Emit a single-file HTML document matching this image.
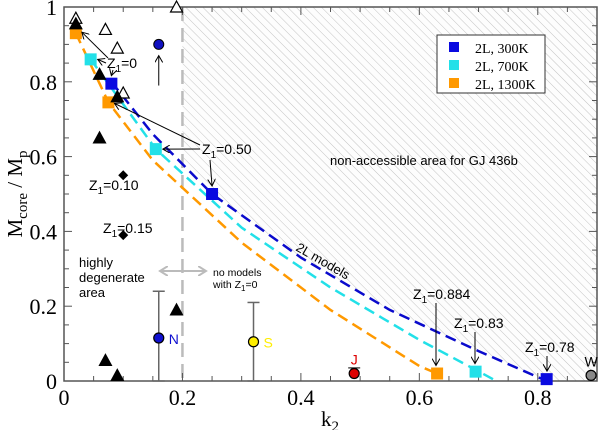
<!DOCTYPE html>
<html><head><meta charset="utf-8"><style>
body{margin:0;background:#fff}
svg text{font-family:"Liberation Sans",sans-serif}
.serif{font-family:"Liberation Serif",serif}
</style></head><body>
<svg id="chart" width="600" height="430" xmlns="http://www.w3.org/2000/svg">
<defs>
<pattern id="hatch" width="6" height="6" patternUnits="userSpaceOnUse" patternTransform="rotate(-45)">
<rect width="6" height="6" fill="#fdfdfd"/><line x1="0" y1="0" x2="0" y2="6" stroke="#c4c4c4" stroke-width="1"/>
</pattern>
<marker id="ah" markerWidth="8" markerHeight="8" refX="7" refY="4" orient="auto" markerUnits="userSpaceOnUse"><path d="M0,0 L7,4 L0,8" fill="none" stroke="#000" stroke-width="1"/></marker>
<marker id="ahg" markerWidth="10" markerHeight="10" refX="8" refY="5" orient="auto" markerUnits="userSpaceOnUse"><path d="M0,0 L8,5 L0,10" fill="none" stroke="#bbb" stroke-width="2"/></marker>
</defs>
<g id="layer"></g>
</svg>
<script>
const xTicks=[0,0.2,0.4,0.6,0.8];
const yTicks=[0,0.2,0.4,0.6,0.8,1];
const blueCurveK=[0.08,0.15,0.25,0.4,0.55,0.7,0.815];
const blueCurveM=[0.80,0.66,0.5,0.33,0.19,0.08,0.0];
const cyanCurveK=[0.045,0.155,0.3,0.45,0.6,0.695,0.73];
const cyanCurveM=[0.86,0.62,0.41,0.25,0.11,0.03,0.0];
const orangeCurveK=[0.02,0.075,0.15,0.3,0.45,0.6,0.63];
const orangeCurveM=[0.93,0.745,0.59,0.37,0.19,0.04,0.02];
const blueSqK=[0.08,0.25,0.815], blueSqM=[0.795,0.5,0.005];
const cyanSqK=[0.045,0.155,0.695], cyanSqM=[0.86,0.62,0.025];
const orangeSqK=[0.02,0.075,0.63], orangeSqM=[0.93,0.745,0.02];
const triFilledK=[0.02,0.06,0.09,0.06,0.07,0.09,0.19];
const triFilledM=[0.955,0.82,0.76,0.65,0.055,0.015,0.19];
const triOpenK=[0.02,0.07,0.09,0.1,0.19];
const triOpenM=[0.97,0.94,0.89,0.77,1.0];
const diamondK=[0.1,0.1], diamondM=[0.55,0.39];
const planetNames=["N","S","J","W"];
const planetK=[0.16,0.32,0.49,0.89];
const planetM=[0.115,0.105,0.02,0.015];
const planetLo=[0,0,0.005,0.015];
const planetHi=[0.24,0.21,0.035,0.015];

const X0=64,X1=597,Y0=381,Y1=7,KMAX=0.9;
const sx=k=>X0+k/KMAX*(X1-X0);
const sy=m=>Y0-m*(Y0-Y1);
const NS="http://www.w3.org/2000/svg";
const L=document.getElementById('layer');
function mk(t,a,txt){const e=document.createElementNS(NS,t);for(const k in a)e.setAttribute(k,a[k]);if(txt!==undefined)e.textContent=txt;L.appendChild(e);return e;}
function interp(K,M,k){for(let i=0;i<K.length-1;i++){if(k>=K[i]&&k<=K[i+1])return M[i]+(M[i+1]-M[i])*(k-K[i])/(K[i+1]-K[i]);}return M[M.length-1];}

let e;
// hatch region above blue curve, right of k2=0.2
let hd=`M${sx(0.2)},${Y1} L${X1},${Y1} L${X1},${Y0} L${sx(blueCurveK[blueCurveK.length-1])},${Y0}`;
for(let i=blueCurveK.length-1;i>=0;i--){if(blueCurveK[i]>0.2)hd+=` L${sx(blueCurveK[i])},${sy(blueCurveM[i])}`;}
hd+=` L${sx(0.2)},${sy(interp(blueCurveK,blueCurveM,0.2))} Z`;
e=mk('path',{d:hd,fill:'url(#hatch)'});


e=mk('line',{x1:sx(0.2),y1:Y1,x2:sx(0.2),y2:Y0,stroke:'#bbb','stroke-width':2.5,'stroke-dasharray':'14,7'});



e=mk('rect',{x:X0,y:Y1,width:X1-X0,height:Y0-Y1,fill:'none',stroke:'#555','stroke-width':1.5});


for(let k=0;k<=0.9001;k+=0.05){const x=sx(k),maj=Math.abs(k/0.2-Math.round(k/0.2))<1e-6,len=maj?8:5;
 mk('line',{x1:x,y1:Y0,x2:x,y2:Y0-len,stroke:'#555'});mk('line',{x1:x,y1:Y1,x2:x,y2:Y1+len,stroke:'#555'});}
for(let m=0;m<=1.0001;m+=0.05){const y=sy(m),maj=Math.abs(m/0.2-Math.round(m/0.2))<1e-6,len=maj?8:5;
 mk('line',{x1:X0,y1:y,x2:X0+len,y2:y,stroke:'#555'});mk('line',{x1:X1,y1:y,x2:X1-len,y2:y,stroke:'#555'});}
xTicks.forEach(k=>{e=mk('text',{x:sx(k),y:405,'text-anchor':'middle','font-size':22,class:'serif'},String(k));

});
yTicks.forEach(m=>{e=mk('text',{x:57,y:sy(m)+8,'text-anchor':'end','font-size':22,class:'serif'},String(m));

});
e=mk('text',{x:330,y:426,'text-anchor':'middle','font-size':21,class:'serif'});e.innerHTML='k<tspan dy="5" font-size="15">2</tspan>';


e=mk('text',{x:0,y:0,'text-anchor':'middle','font-size':21,class:'serif',transform:'translate(22,194) rotate(-90)'});e.innerHTML='M<tspan dy="5" font-size="15">core</tspan><tspan dy="-5"> / M</tspan><tspan dy="5" font-size="15">p</tspan>';



function curve(K,M,col,name){const d=K.map((k,i)=>(i?'L':'M')+sx(k)+','+sy(M[i])).join(' ');
 e=mk('path',{d:d,fill:'none',stroke:col,'stroke-width':2.5,'stroke-dasharray':'11,6'});
 
 }
curve(orangeCurveK,orangeCurveM,'#ff9900','orange-1300k-curve');
curve(cyanCurveK,cyanCurveM,'#22e0e8','cyan-700k-curve');
curve(blueCurveK,blueCurveM,'#0a0acc','blue-300k-curve');

function squares(K,M,col,name){K.forEach((k,i)=>{e=mk('rect',{x:sx(k)-6,y:sy(M[i])-6,width:12,height:12,fill:col});
 
 });}
squares(orangeSqK,orangeSqM,'#ff9900','orange-model-point');
squares(cyanSqK,cyanSqM,'#22e0e8','cyan-model-point');
squares(blueSqK,blueSqM,'#0a0ae0','blue-model-point');

function tri(k,m,fill){const x=sx(k),y=sy(m);return mk('path',{d:`M${x},${y-6} L${x+6},${y+5} L${x-6},${y+5}Z`,fill:fill,stroke:'#000','stroke-width':1.2});}
triOpenK.forEach((k,i)=>{e=tri(k,triOpenM[i],'#fff');

});
triFilledK.forEach((k,i)=>{e=tri(k,triFilledM[i],'#000');

});
diamondK.forEach((k,i)=>{const x=sx(k),y=sy(diamondM[i]);e=mk('path',{d:`M${x},${y-5} L${x+5},${y} L${x},${y+5} L${x-5},${y}Z`,fill:'#000'});

});

e=mk('circle',{cx:sx(0.16),cy:sy(0.9),r:5,fill:'#1010c0',stroke:'#000'});


mk('line',{x1:sx(0.16),y1:sy(0.79),x2:sx(0.16),y2:sy(0.87),stroke:'#000','marker-end':'url(#ah)'});

const pCol=['#1010d0','#ffee00','#dd0000','#888'];
const lCol=['#1010d0','#ffee00','#dd0000','#000'];
planetNames.forEach((n,i)=>{const x=sx(planetK[i]);
 const lo=sy(planetLo[i]),hi=sy(planetHi[i]);
 if(planetHi[i]-planetLo[i]>0.05){mk('line',{x1:x,y1:lo,x2:x,y2:hi,stroke:'#666','stroke-width':1.5});
  mk('line',{x1:x-6,y1:lo,x2:x+6,y2:lo,stroke:'#666','stroke-width':1.5});mk('line',{x1:x-6,y1:hi,x2:x+6,y2:hi,stroke:'#666','stroke-width':1.5});}
 else if(i==2) mk('line',{x1:x-6,y1:hi,x2:x+6,y2:hi,stroke:'#000'});
 e=mk('circle',{cx:x,cy:sy(planetM[i]),r:5,fill:pCol[i],stroke:'#000','stroke-width':1.2});
 
 
 const lx=i<2?x+10:x,ly=i<2?sy(planetM[i])+6:sy(planetM[i])-9;
 e=mk('text',{x:lx,y:ly,'font-size':14,fill:lCol[i],'text-anchor':i<2?'start':'middle'},n);
 
 });

function z(x,y,val,name){e=mk('text',{x:x,y:y,'font-size':14});e.innerHTML='Z<tspan dy="4" font-size="10">1</tspan><tspan dy="-4">='+val+'</tspan>';
 
 }
function arr(x1,y1,x2,y2){mk('line',{x1:x1,y1:y1,x2:x2,y2:y2,stroke:'#000','marker-end':'url(#ah)'});}
z(107,68,'0','z1-0-label');
arr(108,58,sx(orangeSqK[0])+6,sy(orangeSqM[0])-1);
arr(106,63,sx(cyanSqK[0])+7,sy(cyanSqM[0]));
arr(113,70,sx(blueSqK[0]),sy(blueSqM[0])-8);
z(202,154,'0.50','z1-050-label');
arr(200,145,sx(orangeSqK[1])+6,sy(orangeSqM[1])+1);
arr(200,149,sx(cyanSqK[1])+7,sy(cyanSqM[1]));
arr(210,160,sx(blueSqK[1]),sy(blueSqM[1])-8);
z(413,299,'0.884','z1-0884-label');arr(436,303,436,sy(orangeSqM[2])-8);
z(454,328,'0.83','z1-083-label');arr(475,332,475,sy(cyanSqM[2])-8);
z(525,352,'0.78','z1-078-label');arr(547,356,547,sy(blueSqM[2])-8);

e=mk('text',{x:330,y:165,'font-size':13},'non-accessible area for GJ 436b');


e=mk('text',{x:0,y:0,'font-size':13,transform:'translate(295,250) rotate(30)'},'2L models');


e=mk('text',{x:79,y:267,'font-size':13});e.innerHTML='<tspan x="79">highly</tspan><tspan x="79" dy="15">degenerate</tspan><tspan x="79" dy="15">area</tspan>';


e=mk('text',{x:213,y:276,'font-size':10.5});e.innerHTML='<tspan x="213">no models</tspan><tspan x="213" dy="12">with Z<tspan dy="3" font-size="8">1</tspan><tspan dy="-3">=0</tspan></tspan>';


mk('line',{x1:182,y1:271,x2:160,y2:271,stroke:'#bbb','stroke-width':2,'marker-end':'url(#ahg)'});
mk('line',{x1:182,y1:271,x2:206,y2:271,stroke:'#bbb','stroke-width':2,'marker-end':'url(#ahg)'});
z(89,190,'0.10','z1-010-label');
z(103,233,'0.15','z1-015-label');

e=mk('rect',{x:437,y:35,width:108,height:58,fill:'#fff',stroke:'#333'});


[['#0a0ae0','2L, 300K'],['#22e0e8','2L, 700K'],['#ff9900','2L, 1300K']].forEach((d,i)=>{
 mk('rect',{x:449,y:42+i*18,width:10,height:10,fill:d[0]});
 e=mk('text',{x:475,y:53+i*18,'font-size':14,class:'serif'},d[1]);
 
 });
</script>
</body></html>
